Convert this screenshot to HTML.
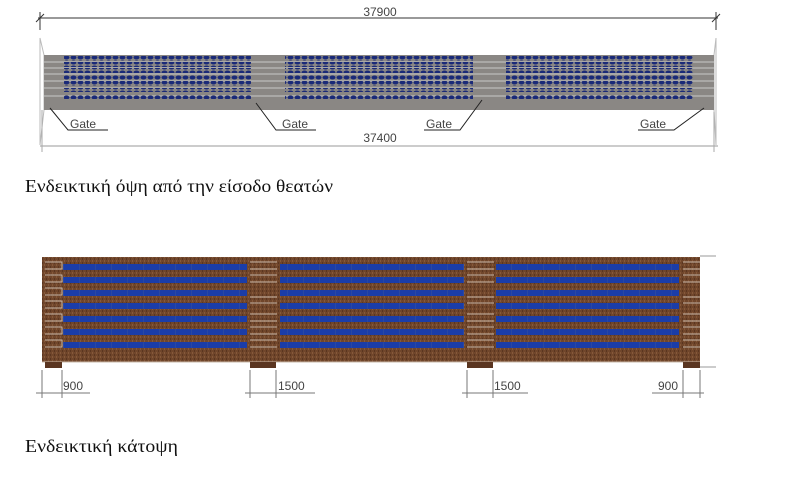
<!DOCTYPE html>
<html><head><meta charset="utf-8"><style>
html,body{margin:0;padding:0;background:#fff;width:804px;height:490px;overflow:hidden}
svg{display:block}
.cap{font-family:"Liberation Serif","DejaVu Serif",serif;font-size:18px;fill:#111}
.dim{font-family:"Liberation Sans",sans-serif;font-size:12px;fill:#444}
</style></head><body>
<svg width="804" height="490" viewBox="0 0 804 490">
<defs>
<pattern id="seat" x="0" y="0" width="7" height="5" patternUnits="userSpaceOnUse">
<ellipse cx="3.5" cy="2.5" rx="3" ry="2" fill="#1a2a78"/>
</pattern>
<pattern id="wood" x="0" y="0" width="4" height="4" patternUnits="userSpaceOnUse">
<rect width="4" height="4" fill="#70462b"/>
<rect x="0" y="0" width="1" height="2" fill="#86593b"/>
<rect x="2" y="2" width="1" height="2" fill="#5a3520"/>
</pattern>
<pattern id="blue" x="0" y="0" width="16" height="6" patternUnits="userSpaceOnUse">
<rect width="16" height="6" fill="#1b3da8"/>
<rect x="15" width="1" height="6" fill="#2a48a0"/>
</pattern>
</defs>

<line x1="38" y1="18" x2="718" y2="18" stroke="#333" stroke-width="1"/>
<line x1="40" y1="12" x2="40" y2="30" stroke="#333"/>
<line x1="716" y1="12" x2="716" y2="30" stroke="#333"/>
<line x1="36" y1="22" x2="44" y2="14" stroke="#333"/>
<line x1="712" y1="22" x2="720" y2="14" stroke="#333"/>
<text x="380" y="16" class="dim" text-anchor="middle">37900</text>

<polygon points="40,38 44,55 44,110 40,145" fill="none" stroke="#bbb"/>
<polygon points="716,38 714,55 714,110 716,145" fill="none" stroke="#bbb"/>
<rect x="44" y="55" width="670" height="55" fill="#8a8784"/>
<g stroke="#c8c8c8" stroke-width="1">
<line x1="44" y1="62" x2="714" y2="62"/><line x1="44" y1="68" x2="714" y2="68"/>
<line x1="44" y1="74" x2="714" y2="74"/><line x1="44" y1="81" x2="714" y2="81"/>
<line x1="44" y1="88" x2="714" y2="88"/><line x1="44" y1="96" x2="714" y2="96"/>
</g>
<g>
<rect x="64" y="56" width="187" height="5" fill="url(#seat)"/>
<rect x="64" y="62" width="187" height="5" fill="url(#seat)"/>
<rect x="64" y="68" width="187" height="5" fill="url(#seat)"/>
<rect x="64" y="75" width="187" height="5" fill="url(#seat)"/>
<rect x="64" y="81" width="187" height="5" fill="url(#seat)"/>
<rect x="64" y="88" width="187" height="4" fill="url(#seat)"/>
<rect x="64" y="95" width="187" height="4" fill="url(#seat)"/>
<rect x="285" y="56" width="188" height="5" fill="url(#seat)"/>
<rect x="285" y="62" width="188" height="5" fill="url(#seat)"/>
<rect x="285" y="68" width="188" height="5" fill="url(#seat)"/>
<rect x="285" y="75" width="188" height="5" fill="url(#seat)"/>
<rect x="285" y="81" width="188" height="5" fill="url(#seat)"/>
<rect x="285" y="88" width="188" height="4" fill="url(#seat)"/>
<rect x="285" y="95" width="188" height="4" fill="url(#seat)"/>
<rect x="506" y="56" width="187" height="5" fill="url(#seat)"/>
<rect x="506" y="62" width="187" height="5" fill="url(#seat)"/>
<rect x="506" y="68" width="187" height="5" fill="url(#seat)"/>
<rect x="506" y="75" width="187" height="5" fill="url(#seat)"/>
<rect x="506" y="81" width="187" height="5" fill="url(#seat)"/>
<rect x="506" y="88" width="187" height="4" fill="url(#seat)"/>
<rect x="506" y="95" width="187" height="4" fill="url(#seat)"/>
</g>
<g stroke="#222" stroke-width="1" fill="none">
<polyline points="50,108 68,130 108,130"/>
<polyline points="256,103 276,130 316,130"/>
<polyline points="482,100 460,130 424,130"/>
<polyline points="704,108 674,130 638,130"/>
</g>
<g class="dim" font-size="13">
<text x="70" y="128">Gate</text>
<text x="282" y="128">Gate</text>
<text x="426" y="128">Gate</text>
<text x="640" y="128">Gate</text>
</g>
<line x1="40" y1="146" x2="718" y2="146" stroke="#999"/>
<line x1="42" y1="110" x2="42" y2="152" stroke="#aaa"/>
<line x1="714" y1="112" x2="714" y2="152" stroke="#aaa"/>
<text x="380" y="142" class="dim" text-anchor="middle" fill="#666">37400</text>

<text x="25" y="192" class="cap" textLength="308" lengthAdjust="spacingAndGlyphs">Ενδεικτική όψη από την είσοδο θεατών</text>

<rect x="42" y="257" width="658" height="105" fill="url(#wood)"/>
<g fill="url(#blue)">
<rect x="63" y="264" width="184" height="6"/><rect x="63" y="277" width="184" height="6"/>
<rect x="63" y="290" width="184" height="6"/><rect x="63" y="303" width="184" height="6"/>
<rect x="63" y="316" width="184" height="6"/><rect x="63" y="329" width="184" height="6"/>
<rect x="63" y="342" width="184" height="6"/>
<rect x="280" y="264" width="184" height="6"/><rect x="280" y="277" width="184" height="6"/>
<rect x="280" y="290" width="184" height="6"/><rect x="280" y="303" width="184" height="6"/>
<rect x="280" y="316" width="184" height="6"/><rect x="280" y="329" width="184" height="6"/>
<rect x="280" y="342" width="184" height="6"/>
<rect x="496" y="264" width="183" height="6"/><rect x="496" y="277" width="183" height="6"/>
<rect x="496" y="290" width="183" height="6"/><rect x="496" y="303" width="183" height="6"/>
<rect x="496" y="316" width="183" height="6"/><rect x="496" y="329" width="183" height="6"/>
<rect x="496" y="342" width="183" height="6"/>
</g>
<g stroke="#c9b8a8" stroke-width="1" fill="none">
<path d="M45,262h17v7h-17M45,275h17v7h-17M45,288h17v7h-17M45,301h17v7h-17M45,314h17v7h-17M45,327h17v7h-17M45,340h17v7h-17"/>
<path d="M250,262h27M250,269h27M250,275h27M250,282h27M250,297h27M250,303h27M250,314h27M250,321h27M250,327h27M250,334h27M250,340h27M250,347h27"/>
<path d="M467,262h27M467,269h27M467,275h27M467,282h27M467,297h27M467,303h27M467,314h27M467,321h27M467,327h27M467,334h27M467,340h27M467,347h27"/>
<path d="M683,262h17M683,269h17M683,275h17M683,282h17M683,297h17M683,303h17M683,314h17M683,321h17M683,327h17M683,334h17M683,340h17M683,347h17"/>
<line x1="42" y1="362" x2="700" y2="362"/>
</g>
<g fill="#5a3520">
<rect x="45" y="362" width="17" height="6"/><rect x="250" y="362" width="26" height="6"/>
<rect x="467" y="362" width="26" height="6"/><rect x="683" y="362" width="17" height="6"/>
</g>
<line x1="700" y1="256" x2="716" y2="256" stroke="#999"/>
<line x1="700" y1="367" x2="716" y2="367" stroke="#999"/>
<g stroke="#777" stroke-width="1" fill="none">
<line x1="42" y1="370" x2="42" y2="398"/><line x1="62" y1="370" x2="62" y2="398"/>
<line x1="36" y1="393" x2="90" y2="393"/>
<line x1="250" y1="370" x2="250" y2="398"/><line x1="276" y1="370" x2="276" y2="398"/>
<line x1="245" y1="393" x2="315" y2="393"/>
<line x1="467" y1="370" x2="467" y2="398"/><line x1="493" y1="370" x2="493" y2="398"/>
<line x1="462" y1="393" x2="528" y2="393"/>
<line x1="683" y1="370" x2="683" y2="398"/><line x1="700" y1="370" x2="700" y2="398"/>
<line x1="652" y1="393" x2="704" y2="393"/>
</g>
<g class="dim" fill="#555">
<text x="63" y="390">900</text>
<text x="278" y="390">1500</text>
<text x="494" y="390">1500</text>
<text x="658" y="390">900</text>
</g>

<text x="25" y="452" class="cap" textLength="153" lengthAdjust="spacingAndGlyphs">Ενδεικτική κάτοψη</text>
</svg>
</body></html>
